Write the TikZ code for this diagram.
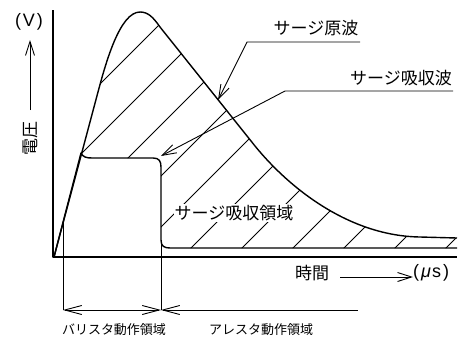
\documentclass[tikz,border=0pt]{standalone}
\usepackage{fontspec}
\setmainfont{Liberation Sans}
\newfontfamily\jp{Noto Sans CJK JP}
\usetikzlibrary{arrows.meta}

\begin{document}
\begin{tikzpicture}[x=1pt, y=-1pt,
		wave/.style={line width=1.4pt, line join=round},
		hatch/.style={line width=0.85pt},
		thinline/.style={line width=0.9pt},
		barb/.style={-{Straight Barb[length=14pt, width=9pt]}},
		jlabel/.style={font=\jp\fontsize{17}{17}\selectfont, inner sep=1pt},
		slabel/.style={font=\jp\fontsize{13}{13}\selectfont, inner sep=1pt},
		ulabel/.style={font=\fontsize{18}{18}\selectfont, inner sep=1pt}]
	\useasboundingbox (0, 0) rectangle (461, 338);

	% axes
	\coordinate (o) at (53, 257);
	\coordinate (ytop) at (53, 10);
	\coordinate (xend) at (457, 257);
	\draw[wave] (ytop) -- (o) -- (xend);

	% hatching between the two waves
	\begin{scope}
		\clip (54, 257) -- (98, 92) .. controls (106, 62) and (120, 12) .. (140, 12)
			.. controls (148, 12) and (153, 17) .. (160, 27) -- (255, 146)
			.. controls (290, 189) and (350, 236) .. (420, 237) -- (457, 238)
			-- (457, 248) -- (170, 248) .. controls (164, 248) and (161, 246) .. (161, 240)
			-- (161, 167) .. controls (161, 161) and (159, 158) .. (153, 158)
			-- (92, 158) .. controls (86, 158) and (83, 157) .. (81, 153) -- cycle;
		\foreach \hc in {184, 235, ..., 694}
			\draw[hatch] (\hc - 260, 260) -- (\hc, 0);
	\end{scope}

	% surge waves
	\draw[wave] (54, 257) -- (98, 92) .. controls (106, 62) and (120, 12) .. (140, 12)
		.. controls (148, 12) and (153, 17) .. (160, 27) -- (255, 146)
		.. controls (290, 189) and (350, 236) .. (420, 237) -- (457, 238);
	\draw[wave] (54, 257) -- (81, 153) .. controls (83, 157) and (86, 158) .. (92, 158)
		-- (153, 158) .. controls (159, 158) and (161, 161) .. (161, 167)
		-- (161, 240) .. controls (161, 246) and (164, 248) .. (170, 248) -- (457, 248);

	\node[jlabel, fill=white] at (234, 213) (area) {サージ吸収領域};

	% leaders
	\node[jlabel] at (316, 28) (orig) {サージ原波};
	\coordinate (origstart) at (360, 42);
	\coordinate (origbend) at (247, 42);
	\coordinate (origtip) at (218, 100);
	\draw[thinline, barb] (origstart) -- (origbend) -- (origtip);

	\node[jlabel] at (401, 78) (absorb) {サージ吸収波};
	\coordinate (absstart) at (453, 91);
	\coordinate (absbend) at (285, 91);
	\coordinate (abstip) at (161, 156);
	\draw[thinline, barb] (absstart) -- (absbend) -- (abstip);

	% axis labels
	\node[ulabel] at (29, 22) (vunit) {(\kern2pt V\kern2pt)};
	\node[jlabel, rotate=90] at (30, 138) (volt) {電圧};
	\coordinate (vbase) at (30, 110);
	\coordinate (vtip) at (30, 40);
	\draw[thinline, barb] (vbase) -- (vtip);

	\node[jlabel] at (312, 273) (time) {時間};
	\node[ulabel, anchor=west] at (412, 273) (tunit) {(\kern2pt\textit{μ}\kern1pt s\kern2pt)};
	\coordinate (tbase) at (340, 277);
	\coordinate (ttip) at (413, 277);
	\draw[thinline, barb] (tbase) -- (ttip);

	% operating regions
	\coordinate (vleft) at (63, 310);
	\coordinate (vright) at (161, 310);
	\coordinate (aright) at (358, 310);
	\draw[thinline] (63, 223) -- (vleft);
	\draw[thinline] (161, 240) -- (vright);
	\draw[thinline, {Straight Barb[length=17pt, width=9pt]}-{Straight Barb[length=17pt, width=9pt]}] (vleft) -- (vright);
	\draw[thinline, {Straight Barb[length=17pt, width=9pt]}-] (vright) -- (aright);
	\node[slabel] at (114, 330) (varistor) {バリスタ動作領域};
	\node[slabel] at (261, 330) (arrester) {アレスタ動作領域};
\end{tikzpicture}
\end{document}
